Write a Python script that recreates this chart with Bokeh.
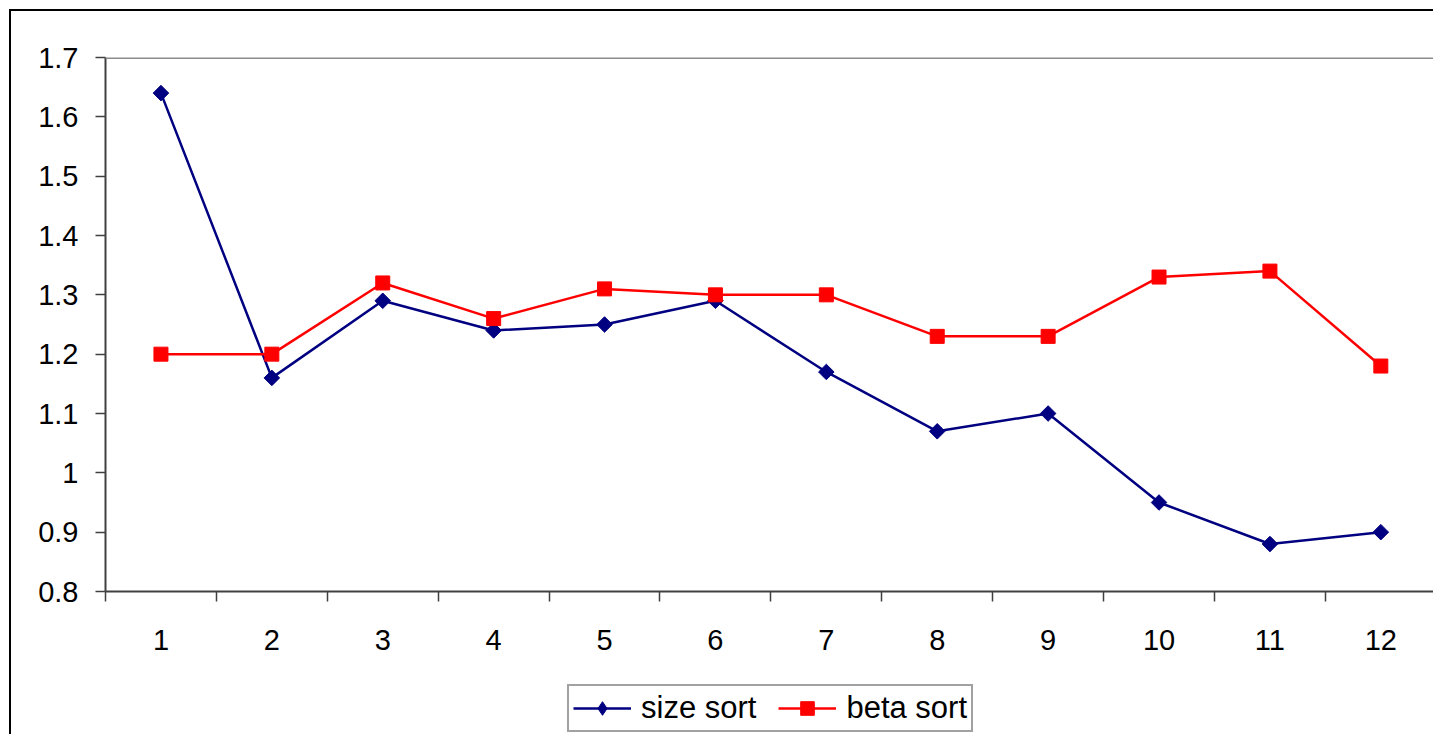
from bokeh.plotting import figure
from bokeh.layouts import column
from bokeh.models import (Range1d, FixedTicker, Span, Legend, LegendItem,
                          InlineStyleSheet)
from bokeh.embed import file_html
from bokeh.resources import INLINE

# Data
categories = [1, 2, 3, 4, 5, 6, 7, 8, 9, 10, 11, 12]
size_sort = [1.64, 1.16, 1.29, 1.24, 1.25, 1.29, 1.17, 1.07, 1.10, 0.95, 0.88, 0.90]
beta_sort = [1.20, 1.20, 1.32, 1.26, 1.31, 1.30, 1.30, 1.23, 1.23, 1.33, 1.34, 1.18]
y_ticks = [0.8, 0.9, 1.0, 1.1, 1.2, 1.3, 1.4, 1.5, 1.6, 1.7]
y_tick_labels = ["0.8", "0.9", "1", "1.1", "1.2", "1.3", "1.4", "1.5", "1.6", "1.7"]
series_names = ["size sort", "beta sort"]

FONT = "Liberation Sans"
AXIS_COLOR = "#404040"
NAVY = "#000080"
RED = "#ff0000"

p = figure(
    frame_width=1328, frame_height=534,
    min_border_left=105, min_border_top=57,
    min_border_right=0, min_border_bottom=79,
    x_range=Range1d(0.5, 12.475), y_range=Range1d(0.8, 1.7),
    output_backend="svg", toolbar_location=None,
    background_fill_color="white", border_fill_color="white",
)
p.outline_line_color = None
p.xgrid.visible = False
p.ygrid.visible = False

# x axis: labels at category centres, ticks on the category boundaries
bounds = [c - 0.5 for c in categories] + [categories[-1] + 0.5]
p.xaxis.ticker = FixedTicker(ticks=categories, minor_ticks=bounds)
p.xaxis.major_tick_out = 0
p.xaxis.major_tick_in = 0
p.xaxis.minor_tick_out = 10
p.xaxis.minor_tick_in = 0
p.xaxis.minor_tick_line_color = AXIS_COLOR
p.xaxis.minor_tick_line_width = 1.5
p.xaxis.major_label_standoff = 28

# y axis
p.yaxis.ticker = FixedTicker(ticks=y_ticks, minor_ticks=[])
p.yaxis.major_label_overrides = dict(zip(y_ticks, y_tick_labels))
p.yaxis.major_tick_out = 10
p.yaxis.major_tick_in = 0
p.yaxis.major_tick_line_color = AXIS_COLOR
p.yaxis.major_tick_line_width = 1.5
p.yaxis.major_label_standoff = 17

for ax in (p.xaxis, p.yaxis):
    ax.axis_line_color = AXIS_COLOR
    ax.axis_line_width = 2
    ax.major_label_text_font = FONT
    ax.major_label_text_font_size = "29px"
    ax.major_label_text_color = "black"

# top edge of the plot area
p.add_layout(Span(location=1.7, dimension="width", line_color="#8c8c8c", line_width=3))

# series
p.line(categories, size_sort, line_color=NAVY, line_width=2.5)
p.scatter(categories, size_sort, marker="square", angle=0.785398, size=11,
          fill_color=NAVY, line_color=NAVY)
p.line(categories, beta_sort, line_color=RED, line_width=2.5)
p.scatter(categories, beta_sort, marker="square", size=14,
          fill_color=RED, line_color=RED)

# legend strip underneath the chart; its key glyphs sit outside the visible range
lg = figure(
    width=1433, height=64,
    min_border_left=0, min_border_right=0, min_border_top=0, min_border_bottom=0,
    x_range=Range1d(0, 1), y_range=Range1d(0, 1),
    x_axis_type=None, y_axis_type=None,
    output_backend="svg", toolbar_location=None,
    background_fill_color="white", border_fill_color="white",
)
lg.outline_line_color = None
lg.grid.visible = False
k1 = [lg.line([-5, -4], [-5, -5], line_color=NAVY, line_width=2.5),
      lg.scatter([-5], [-5], marker="diamond", size=14,
                 fill_color=NAVY, line_color=NAVY)]
k2 = [lg.line([-5, -4], [-5, -5], line_color=RED, line_width=2.5),
      lg.scatter([-5], [-5], marker="square", size=14, fill_color=RED, line_color=RED)]

legend = Legend(
    items=[LegendItem(label=series_names[0], renderers=k1),
           LegendItem(label=series_names[1], renderers=k2)],
    orientation="horizontal", location=(462, 2),
    label_text_font=FONT, label_text_font_size="31px", label_text_color="black",
    glyph_width=58, glyph_height=34, label_height=34,
    label_standoff=10, spacing=22, padding=4, margin=0,
    border_line_color="#444444", border_line_width=2,
    background_fill_alpha=1.0,
)
lg.add_layout(legend, "center")

layout = column(p, lg, spacing=0)

# outer chart border (its left and top edges fall inside the page)
layout.stylesheets = [InlineStyleSheet(css="""
:host::after {
  content: ""; position: fixed; left: 9px; top: 9px; right: -20px; bottom: -20px;
  border-left: 2px solid #000; border-top: 2px solid #000;
  pointer-events: none;
}
""")]

open("out.html", "w").write(file_html(layout, INLINE))
